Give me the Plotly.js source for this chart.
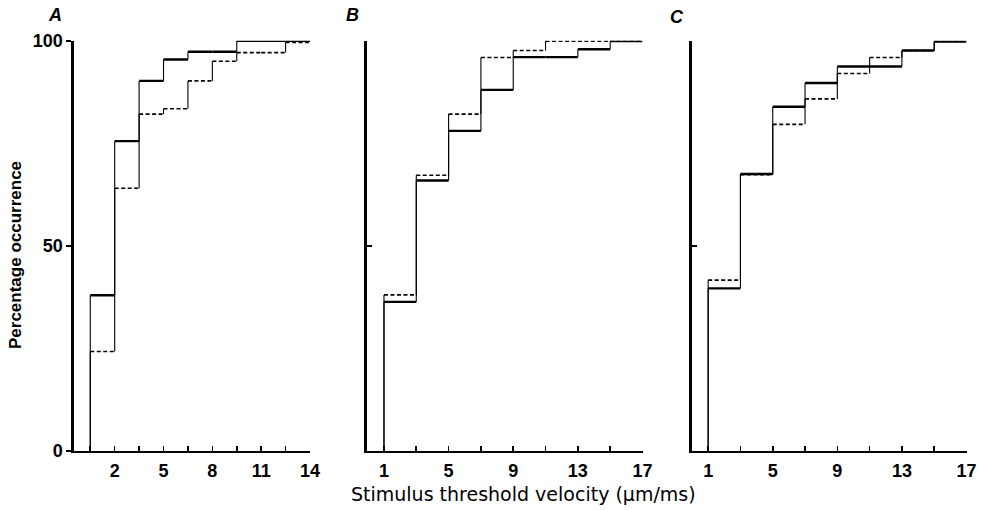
<!DOCTYPE html>
<html>
<head>
<meta charset="utf-8">
<script src="https://cdn.plot.ly/plotly-3.0.1.min.js"></script>
<style>html,body{margin:0;padding:0;background:#fff;}#chart{width:984px;height:510px;}</style>
</head>
<body>
<div id="chart"></div>
<script>
// ---- data ----
const edgesA = [0.5, 2, 3.5, 5, 6.5, 8, 9.5, 11, 12.5, 14];
const solidA = [37.9, 75.5, 90.2, 95.4, 97.3, 97.3, 100, 100, 100];
const dashedA = [24.2, 64.0, 82.1, 83.4, 90.2, 95.0, 97.1, 97.1, 99.6];

const edgesB = [1, 3, 5, 7, 9, 11, 13, 15, 17];
const solidB = [36.3, 65.9, 78.0, 88.0, 96.0, 96.0, 97.9, 99.9];
const dashedB = [38.0, 67.2, 82.1, 95.9, 97.6, 99.9, 99.9, 99.9];

const edgesC = [1, 3, 5, 7, 9, 11, 13, 15, 17];
const solidC = [39.6, 67.5, 83.9, 89.7, 93.7, 93.7, 97.6, 99.8];
const dashedC = [41.6, 67.3, 79.6, 85.8, 92.0, 95.9, 97.6, 99.8];

const tickValsA = [0.5, 2, 3.5, 5, 6.5, 8, 9.5, 11, 12.5, 14];
const tickTextA = ['', '2', '', '5', '', '8', '', '11', '', '14'];
const tickValsBC = [1, 3, 5, 7, 9, 11, 13, 15, 17];
const tickTextBC = ['1', '', '5', '', '9', '', '13', '', '17'];

const panelLabels = ['A', 'B', 'C'];
const xTitle = 'Stimulus threshold velocity (\u03bcm/ms)';
const yTitle = 'Percentage occurrence';

// ---- build traces ----
function horiz(edges, vals) {
  const x = [], y = [];
  for (let i = 0; i < vals.length; i++) {
    x.push(edges[i], edges[i + 1], null);
    y.push(vals[i], vals[i], null);
  }
  return {x, y};
}
function vert(edges, vals) {
  const x = [], y = [];
  for (let i = 0; i < vals.length; i++) {
    const prev = i ? vals[i - 1] : 0;
    x.push(edges[i], edges[i], null);
    y.push(prev, vals[i], null);
  }
  return {x, y};
}

const traces = [];
const panels = [
  {edges: edgesA, solid: solidA, dashed: dashedA, xa: 'x', ya: 'y'},
  {edges: edgesB, solid: solidB, dashed: dashedB, xa: 'x2', ya: 'y2'},
  {edges: edgesC, solid: solidC, dashed: dashedC, xa: 'x3', ya: 'y3'}
];
panels.forEach(p => {
  const vd = vert(p.edges, p.dashed);
  const vs = vert(p.edges, p.solid);
  const hd = horiz(p.edges, p.dashed);
  const hs = horiz(p.edges, p.solid);
  traces.push({x: vd.x, y: vd.y, xaxis: p.xa, yaxis: p.ya, mode: 'lines', line: {color: '#000', width: 1.1}, hoverinfo: 'skip'});
  traces.push({x: vs.x, y: vs.y, xaxis: p.xa, yaxis: p.ya, mode: 'lines', line: {color: '#000', width: 1.1}, hoverinfo: 'skip'});
  traces.push({x: hd.x, y: hd.y, xaxis: p.xa, yaxis: p.ya, mode: 'lines', line: {color: '#000', width: 1.6, dash: '4px,2.5px'}, hoverinfo: 'skip'});
  traces.push({x: hs.x, y: hs.y, xaxis: p.xa, yaxis: p.ya, mode: 'lines', line: {color: '#000', width: 2.4}, hoverinfo: 'skip'});
});

const W = 984, H = 510;
const px = v => v / W;
const py = v => 1 - v / H;
const yDom = [py(450.7), py(40.7)];
const tickFont = {family: 'Liberation Sans, Arial, sans-serif', size: 18, color: '#000', weight: 'bold'};

function xAxis(domain, range, vals, text, anchor) {
  return {
    domain, range, anchor, tickvals: vals, ticktext: text, tickmode: 'array',
    ticks: 'inside', ticklen: 5, tickwidth: 1.6, tickcolor: '#000',
    showline: true, linecolor: '#000', linewidth: 2.2,
    showgrid: false, zeroline: false, tickfont: tickFont, ticklabelstandoff: 2,
    fixedrange: true
  };
}
function yAxis(anchor, labels, tickdir) {
  return {
    domain: yDom, range: [0, 100], anchor,
    tickvals: labels ? [0, 50, 100] : [50, 100],
    ticktext: labels ? ['0', '50', '100'] : ['', ''],
    showticklabels: !!labels, tickmode: 'array',
    ticks: tickdir, ticklen: 5, tickwidth: 1.6, tickcolor: '#000',
    showline: true, linecolor: '#000', linewidth: 2.6,
    showgrid: false, zeroline: false, tickfont: tickFont, fixedrange: true
  };
}

const labelFont = {family: 'Liberation Sans, Arial, sans-serif', size: 18, color: '#000', weight: 'bold', style: 'italic'};
const layout = {
  width: W, height: H,
  margin: {l: 0, r: 0, t: 0, b: 0},
  paper_bgcolor: '#fff', plot_bgcolor: 'rgba(0,0,0,0)',
  showlegend: false,
  xaxis: xAxis([px(74), px(310)], [-0.5, 14], tickValsA, tickTextA, 'y'),
  xaxis2: xAxis([px(367), px(642.5)], [-0.05, 17], tickValsBC, tickTextBC, 'y2'),
  xaxis3: xAxis([px(692), px(966.5)], [0, 17], tickValsBC, tickTextBC, 'y3'),
  yaxis: yAxis('x', true, 'outside'),
  yaxis2: yAxis('x2', false, 'inside'),
  yaxis3: yAxis('x3', false, 'inside'),
  annotations: [
    {text: panelLabels[0], x: px(55), y: py(15), xref: 'paper', yref: 'paper', showarrow: false, xanchor: 'center', yanchor: 'middle', font: labelFont},
    {text: panelLabels[1], x: px(352), y: py(15), xref: 'paper', yref: 'paper', showarrow: false, xanchor: 'center', yanchor: 'middle', font: labelFont},
    {text: panelLabels[2], x: px(677), y: py(17), xref: 'paper', yref: 'paper', showarrow: false, xanchor: 'center', yanchor: 'middle', font: labelFont},
    {text: xTitle, x: px(523), y: py(494), xref: 'paper', yref: 'paper', showarrow: false, xanchor: 'center', yanchor: 'middle', font: {family: 'DejaVu Sans, sans-serif', size: 19, color: '#000'}},
    {text: yTitle, x: px(15), y: py(255), xref: 'paper', yref: 'paper', showarrow: false, xanchor: 'center', yanchor: 'middle', textangle: -90, font: {family: 'Liberation Sans, Arial, sans-serif', size: 17, color: '#000', weight: 'bold'}}
  ]
};

Plotly.newPlot('chart', traces, layout, {staticPlot: true, displayModeBar: false});
</script>
</body>
</html>
